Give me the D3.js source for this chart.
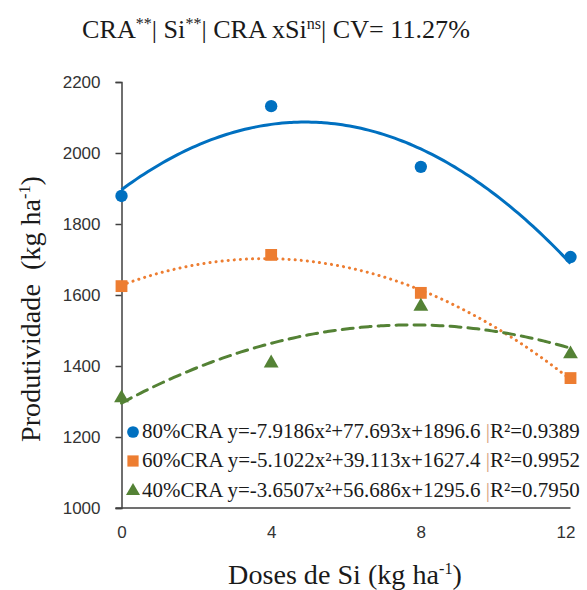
<!DOCTYPE html>
<html>
<head>
<meta charset="utf-8">
<script src="https://cdn.jsdelivr.net/npm/d3@7"></script>
<style>
  body { margin: 0; background: #fff; }
  svg { display: block; }
  .axis text { font-family: "Liberation Sans", Arial, sans-serif; font-size: 17px; fill: #333; }
</style>
</head>
<body>
<svg id="chart"></svg>
<script>
// doses of Si (kg/ha)
const doses = [0, 4, 8, 12];
const yTicks = [1000, 1200, 1400, 1600, 1800, 2000, 2200];

const cra80 = [1879, 2132, 1961, 1707];
const cra60 = [1625, 1713, 1606, 1366];
const cra40 = [1310, 1408, 1568, 1434];

// quadratic trend coefficients [a, b, c] for y = a x² + b x + c (from the legend)
const coef80 = [-7.9186, 77.693, 1896.6];
const coef60 = [-5.1022, 39.113, 1627.4];
const coef40 = [-3.6507, 56.686, 1295.6];

const seriesNames = ['80%CRA', '60%CRA', '40%CRA'];
const eqLabels = [
  'y=-7.9186x²+77.693x+1896.6',
  'y=-5.1022x²+39.113x+1627.4',
  'y=-3.6507x²+56.686x+1295.6'
];
const r2Labels = ['R²=0.9389', 'R²=0.9952', 'R²=0.7950'];

const W = 587, H = 590;
const svg = d3.select('#chart').attr('width', W).attr('height', H);

const x = d3.scaleLinear().domain([0, 12]).range([121.5, 570.5]);
const y = d3.scaleLinear().domain([1000, 2200]).range([508, 82]);

const series = [
  {name: seriesNames[0], vals: cra80, coef: coef80, color: '#0070C0', shape: 'circle', dash: null, cap: 'butt'},
  {name: seriesNames[1], vals: cra60, coef: coef60, color: '#ED7D31', shape: 'square', dash: '0.1,6', cap: 'round'},
  {name: seriesNames[2], vals: cra40, coef: coef40, color: '#548235', shape: 'triangle', dash: '11,7', cap: 'round'}
];

// axes
const yAxis = d3.axisLeft(y).tickValues(yTicks).tickSize(6).tickPadding(15).tickFormat(d3.format('d'));
const yAxisG = svg.append('g').attr('class', 'axis')
    .attr('transform', `translate(${x(0)},0)`)
    .call(yAxis);
yAxisG.select('.domain').attr('stroke', '#404040').attr('stroke-width', 1.5);
yAxisG.selectAll('.tick line').attr('stroke', '#404040').attr('stroke-width', 1.5);

const xAxis = d3.axisBottom(x).tickValues(doses).tickSize(0).tickPadding(18).tickFormat(d3.format('d'));
const xAxisG = svg.append('g').attr('class', 'axis')
    .attr('transform', `translate(0,${y(1000)})`)
    .call(xAxis);
xAxisG.select('.domain').attr('stroke', '#404040').attr('stroke-width', 1.5)
    .attr('d', `M${x(0) - 6},0H${x(12)}`);
// last label sits a little inside the edge, as in the original
xAxisG.selectAll('.tick').filter(d => d === 12).select('text').attr('dx', -5);

// trend lines, sampled along x from the legend's equations
const xs = d3.range(0, 12.001, 0.1);
const line = d3.line().x(d => x(d[0])).y(d => y(d[1])).curve(d3.curveMonotoneX);

series.forEach(s => {
  const pts = xs.map(v => [v, s.coef[0] * v * v + s.coef[1] * v + s.coef[2]]);
  svg.append('path')
      .datum(pts)
      .attr('d', line)
      .attr('fill', 'none')
      .attr('stroke', s.color)
      .attr('stroke-width', 3)
      .attr('stroke-linecap', s.cap)
      .attr('stroke-dasharray', s.dash);
});

const symbols = {circle: d3.symbolCircle, square: d3.symbolSquare, triangle: d3.symbolTriangle};
const symSize = {circle: 120, square: 140, triangle: 95};

series.forEach(s => {
  svg.append('g').selectAll('path')
      .data(s.vals)
    .join('path')
      .attr('transform', (d, i) => `translate(${x(doses[i])},${y(d)})`)
      .attr('d', d3.symbol(symbols[s.shape], symSize[s.shape]))
      .attr('fill', s.color);
});

// helper for serif text
function serifText(sel, size) {
  return sel.append('text')
      .style('font-family', 'Liberation Serif, serif')
      .style('font-size', size + 'px')
      .attr('fill', '#1a1a1a');
}

// shrink/grow a text (and its tspans) so it spans the given width
function fitWidth(t, target) {
  const w = t.node().getComputedTextLength();
  const k = target / w;
  t.style('font-size', (parseFloat(t.style('font-size')) * k) + 'px');
  t.selectAll('tspan').each(function() {
    const ts = d3.select(this);
    if (this.style.fontSize) ts.style('font-size', (parseFloat(this.style.fontSize) * k) + 'px');
  });
}

// legend
const legend = svg.append('g').attr('transform', 'translate(133,0)');
const rowY = [438, 467, 497];
series.forEach((s, i) => {
  legend.append('path')
      .attr('transform', `translate(0,${rowY[i] - 6})`)
      .attr('d', d3.symbol(symbols[s.shape], symSize[s.shape] * 0.9))
      .attr('fill', s.color);
  const t = serifText(legend, 23)
      .attr('x', 9)
      .attr('y', rowY[i]);
  t.append('tspan').text(`${s.name} ${eqLabels[i]} `);
  t.append('tspan').attr('fill', '#d7a37c').text('|');
  t.append('tspan').text(r2Labels[i]);
  fitWidth(t, 438);
});

// title
const title = serifText(svg, 26)
    .attr('x', 276)
    .attr('y', 38)
    .attr('text-anchor', 'middle');
title.append('tspan').text('CRA');
title.append('tspan').attr('dy', -9).style('font-size', '16px').text('**');
title.append('tspan').attr('dy', 9).text('| Si');
title.append('tspan').attr('dy', -9).style('font-size', '16px').text('**');
title.append('tspan').attr('dy', 9).text('| CRA xSi');
title.append('tspan').attr('dy', -9).style('font-size', '16px').text('ns');
title.append('tspan').attr('dy', 9).text('| CV= 11.27%');
fitWidth(title, 388);

// axis titles
const xTitle = serifText(svg, 26)
    .attr('x', 345)
    .attr('y', 584)
    .attr('text-anchor', 'middle');
xTitle.append('tspan').text('Doses de Si (kg ha');
xTitle.append('tspan').attr('dy', -10).style('font-size', '15px').text('-1');
xTitle.append('tspan').attr('dy', 10).text(')');
fitWidth(xTitle, 234);

const yTitle = serifText(svg, 26)
    .attr('transform', 'translate(40,309) rotate(-90)')
    .attr('text-anchor', 'middle');
yTitle.append('tspan').text('Produtividade\u00a0 (kg ha');
yTitle.append('tspan').attr('dy', -10).style('font-size', '15px').text('-1');
yTitle.append('tspan').attr('dy', 10).text(')');
fitWidth(yTitle, 266);
</script>
</body>
</html>
